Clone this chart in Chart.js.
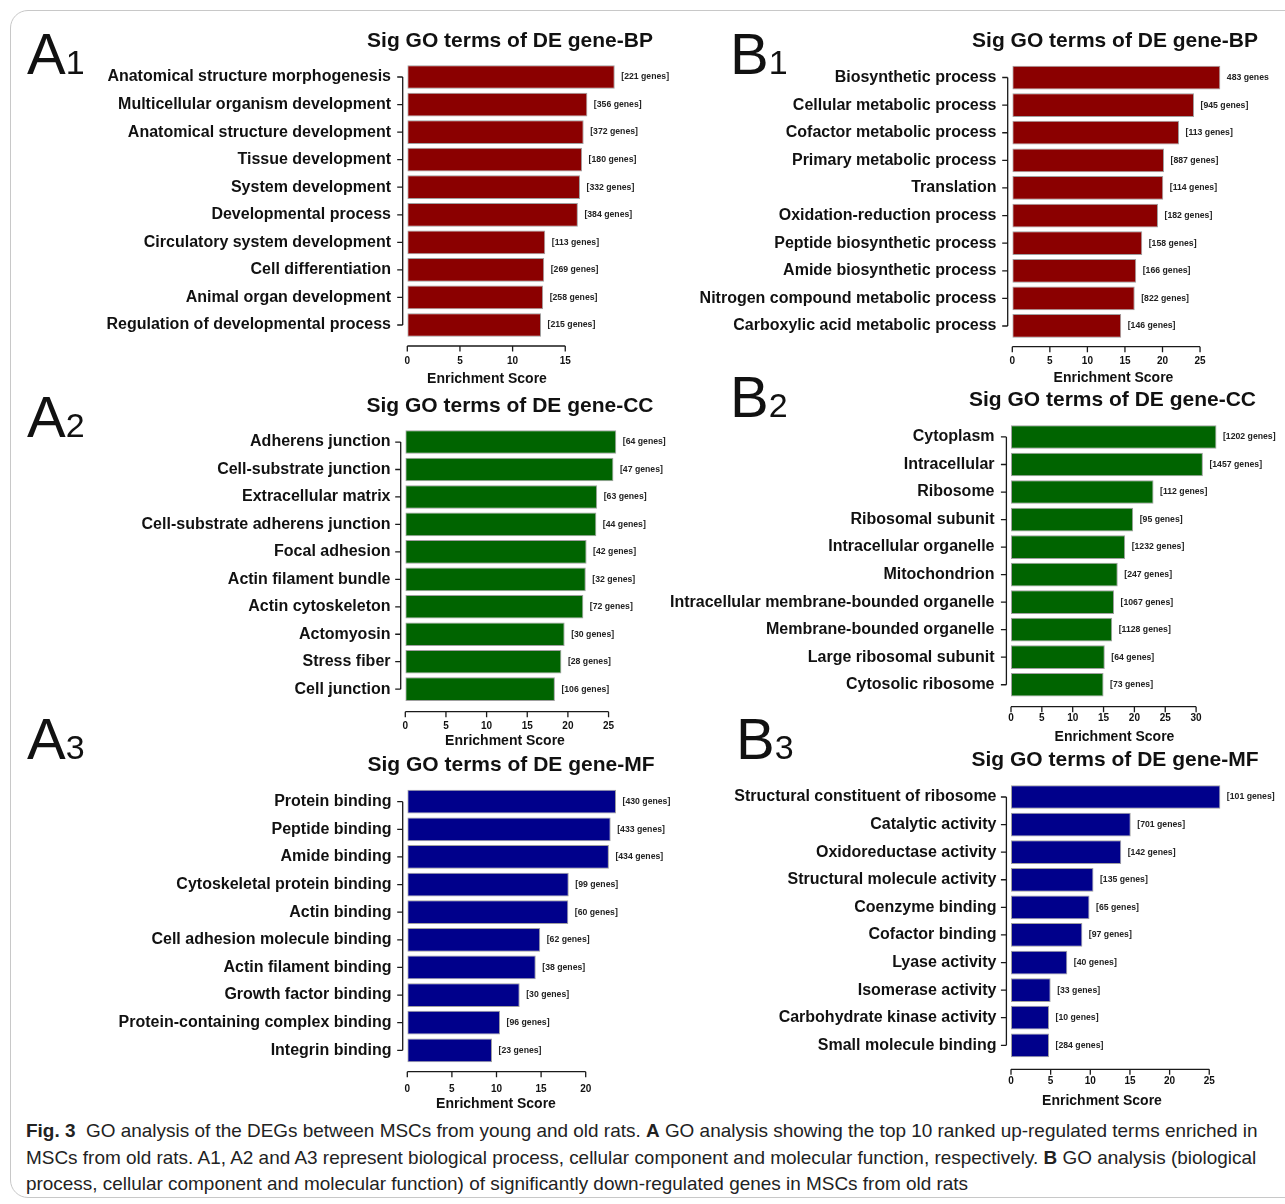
<!DOCTYPE html>
<html>
<head>
<meta charset="utf-8">
<script src="https://cdn.jsdelivr.net/npm/chart.js@4.4.1/dist/chart.umd.min.js"></script>
<style>
html,body{margin:0;padding:0;background:#fff;}
body{width:1285px;height:1204px;overflow:hidden;position:relative;font-family:"Liberation Sans",Arial,Helvetica,sans-serif;color:#111;}
#frame{position:absolute;left:10px;top:10px;width:1300px;height:1186px;border:1px solid #c8c8c8;border-radius:18px;}
.cv{position:absolute;}
.ttl{position:absolute;font-weight:bold;font-size:21px;line-height:21px;white-space:nowrap;transform:translate(-50%,-50%);color:#111;}
.xt{position:absolute;font-weight:bold;font-size:14px;line-height:14px;white-space:nowrap;transform:translate(-50%,-50%);color:#111;}
.big{position:absolute;font-size:58px;line-height:58px;white-space:nowrap;color:#111;}
.big span{font-size:34px;}
#cap{position:absolute;left:26px;top:1118px;font-size:19px;line-height:26.5px;color:#222;white-space:nowrap;}
#cap div{white-space:nowrap;}
</style>
</head>
<body>
<div id="frame"></div>
<div id="root"></div>
<div id="cap">
<div id="cl1"><b>Fig. 3</b>&nbsp; GO analysis of the DEGs between MSCs from young and old rats. <b>A</b> GO analysis showing the top 10 ranked up-regulated terms enriched in</div>
<div id="cl2">MSCs from old rats. A1, A2 and A3 represent biological process, cellular component and molecular function, respectively. <b>B</b> GO analysis (biological</div>
<div id="cl3">process, cellular component and molecular function) of significantly down-regulated genes in MSCs from old rats</div>
</div>
<script>
// ---------------- DATA ----------------
const a1Terms = ["Anatomical structure morphogenesis","Multicellular organism development","Anatomical structure development","Tissue development","System development","Developmental process","Circulatory system development","Cell differentiation","Animal organ development","Regulation of developmental process"];
const a1Scores = [19.7,17.1,16.75,16.6,16.4,16.2,13.1,13.0,12.9,12.7];
const a1Genes = ["[221 genes]","[356 genes]","[372 genes]","[180 genes]","[332 genes]","[384 genes]","[113 genes]","[269 genes]","[258 genes]","[215 genes]"];
const a1Ticks = [0,5,10,15];

const b1Terms = ["Biosynthetic process","Cellular metabolic process","Cofactor metabolic process","Primary metabolic process","Translation","Oxidation-reduction process","Peptide biosynthetic process","Amide biosynthetic process","Nitrogen compound metabolic process","Carboxylic acid metabolic process"];
const b1Scores = [27.7,24.2,22.2,20.2,20.1,19.4,17.3,16.5,16.3,14.5];
const b1Genes = ["483 genes","[945 genes]","[113 genes]","[887 genes]","[114 genes]","[182 genes]","[158 genes]","[166 genes]","[822 genes]","[146 genes]"];
const b1Ticks = [0,5,10,15,20,25];

const a2Terms = ["Adherens junction","Cell-substrate junction","Extracellular matrix","Cell-substrate adherens junction","Focal adhesion","Actin filament bundle","Actin cytoskeleton","Actomyosin","Stress fiber","Cell junction"];
const a2Scores = [25.95,25.6,23.6,23.5,22.3,22.2,21.9,19.6,19.2,18.4];
const a2Genes = ["[64 genes]","[47 genes]","[63 genes]","[44 genes]","[42 genes]","[32 genes]","[72 genes]","[30 genes]","[28 genes]","[106 genes]"];
const a2Ticks = [0,5,10,15,20,25];

const b2Terms = ["Cytoplasm","Intracellular","Ribosome","Ribosomal subunit","Intracellular organelle","Mitochondrion","Intracellular membrane-bounded organelle","Membrane-bounded organelle","Large ribosomal subunit","Cytosolic ribosome"];
const b2Scores = [33.3,31.1,23.1,19.8,18.5,17.3,16.7,16.4,15.2,15.0];
const b2Genes = ["[1202 genes]","[1457 genes]","[112 genes]","[95 genes]","[1232 genes]","[247 genes]","[1067 genes]","[1128 genes]","[64 genes]","[73 genes]"];
const b2Ticks = [0,5,10,15,20,25,30];

const a3Terms = ["Protein binding","Peptide binding","Amide binding","Cytoskeletal protein binding","Actin binding","Cell adhesion molecule binding","Actin filament binding","Growth factor binding","Protein-containing complex binding","Integrin binding"];
const a3Scores = [23.4,22.8,22.6,18.1,18.05,14.9,14.4,12.6,10.4,9.5];
const a3Genes = ["[430 genes]","[433 genes]","[434 genes]","[99 genes]","[60 genes]","[62 genes]","[38 genes]","[30 genes]","[96 genes]","[23 genes]"];
const a3Ticks = [0,5,10,15,20];

const b3Terms = ["Structural constituent of ribosome","Catalytic activity","Oxidoreductase activity","Structural molecule activity","Coenzyme binding","Cofactor binding","Lyase activity","Isomerase activity","Carbohydrate kinase activity","Small molecule binding"];
const b3Scores = [26.4,15.1,13.9,10.4,9.9,9.0,7.1,5.0,4.8,4.8];
const b3Genes = ["[101 genes]","[701 genes]","[142 genes]","[135 genes]","[65 genes]","[97 genes]","[40 genes]","[33 genes]","[10 genes]","[284 genes]"];
const b3Ticks = [0,5,10,15,20,25];

const panelTitles = ["Sig GO terms of DE gene-BP","Sig GO terms of DE gene-BP","Sig GO terms of DE gene-CC","Sig GO terms of DE gene-CC","Sig GO terms of DE gene-MF","Sig GO terms of DE gene-MF"];
const xTitle = "Enrichment Score";

// ---------------- LAYOUT ----------------
const RED = '#8b0000', GREEN = '#006400', BLUE = '#00008b';
const panels = [
  {key:['A','1'], terms:a1Terms, scores:a1Scores, genes:a1Genes, ticks:a1Ticks, title:panelTitles[0], color:RED,
   x0:407.3, ppu:10.53, top:63.2, bottom:338.8, axisY:346, tickY:361.7, labelRight:391, right:690,
   tx:510, ty:39, xx:487, xy:378, big:{x:27, base:74}, side:'A'},
  {key:['B','1'], terms:b1Terms, scores:b1Scores, genes:b1Genes, ticks:b1Ticks, title:panelTitles[1], color:RED,
   x0:1012.3, ppu:7.51, top:63.7, bottom:339.8, axisY:346.7, tickY:361.7, labelRight:996.5, right:1280,
   tx:1115, ty:39, xx:1113.5, xy:377, big:{x:730, base:74}, side:'B'},
  {key:['A','2'], terms:a2Terms, scores:a2Scores, genes:a2Genes, ticks:a2Ticks, title:panelTitles[2], color:GREEN,
   x0:405.3, ppu:8.13, top:428.3, bottom:702.9, axisY:711.7, tickY:726.7, labelRight:390.5, right:690,
   tx:510, ty:404, xx:505, xy:740, big:{x:27, base:437}, side:'A'},
  {key:['B','2'], terms:b2Terms, scores:b2Scores, genes:b2Genes, ticks:b2Ticks, title:panelTitles[3], color:GREEN,
   x0:1011, ppu:6.17, top:423.2, bottom:698.5, axisY:706.7, tickY:718, labelRight:994.5, right:1280,
   tx:1112.5, ty:398, xx:1114.5, xy:735.7, big:{x:730, base:417}, side:'B'},
  {key:['A','3'], terms:a3Terms, scores:a3Scores, genes:a3Genes, ticks:a3Ticks, title:panelTitles[4], color:BLUE,
   x0:407.3, ppu:8.92, top:787.9, bottom:1064.1, axisY:1071.7, tickY:1089, labelRight:391.5, right:690,
   tx:511, ty:763, xx:496, xy:1103, big:{x:27, base:759}, side:'A'},
  {key:['B','3'], terms:b3Terms, scores:b3Scores, genes:b3Genes, ticks:b3Ticks, title:panelTitles[5], color:BLUE,
   x0:1011, ppu:7.93, top:783.2, bottom:1059.1, axisY:1069.3, tickY:1081, labelRight:996.5, right:1280,
   tx:1115, ty:758, xx:1102, xy:1100, big:{x:736, base:759}, side:'B'}
];

const FONT = '"Liberation Sans", Arial, Helvetica, sans-serif';

// R-style axes + bar-end gene labels, drawn from the chart's own scales/elements
const rStyle = {
  id: 'rStyle',
  afterDraw(chart, args, o) {
    const ctx = chart.ctx, xs = chart.scales.x, ys = chart.scales.y, ca = chart.chartArea;
    ctx.save();
    ctx.strokeStyle = '#1a1a1a';
    ctx.lineWidth = 1.3;
    // x axis (only over tick range)
    const yy = o.axisY;
    ctx.beginPath();
    ctx.moveTo(xs.getPixelForValue(o.ticks[0]), yy);
    ctx.lineTo(xs.getPixelForValue(o.ticks[o.ticks.length - 1]), yy);
    xs.ticks.forEach(t => {
      const px = xs.getPixelForValue(t.value);
      ctx.moveTo(px, yy);
      ctx.lineTo(px, yy + 5.5);
    });
    ctx.stroke();
    // y axis
    const xx = ca.left - 4.6;
    const n = ys.ticks.length;
    ctx.beginPath();
    ctx.moveTo(xx, ys.getPixelForTick(0));
    ctx.lineTo(xx, ys.getPixelForTick(n - 1));
    for (let i = 0; i < n; i++) {
      const py = ys.getPixelForTick(i);
      ctx.moveTo(xx, py);
      ctx.lineTo(xx - 5.5, py);
    }
    ctx.stroke();
    // gene counts
    const meta = chart.getDatasetMeta(0);
    ctx.font = 'bold 8.7px ' + FONT;
    ctx.fillStyle = '#222';
    ctx.textAlign = 'left';
    ctx.textBaseline = 'middle';
    meta.data.forEach((bar, i) => {
      ctx.fillText(o.genes[i], bar.x + 6.5, bar.y);
    });
    ctx.restore();
  }
};

const root = document.getElementById('root');

panels.forEach(p => {
  const CL = p.side === 'A' ? 0 : 640;
  const W = p.side === 'A' ? 700 : 645;
  const CT = Math.floor(p.top) - 30;
  const H = Math.ceil(p.bottom) - CT + 50;
  const leftC = p.x0 - CL;
  const topC = p.top - CT;
  const rightC = p.right - CL;
  const bottomC = p.bottom - CT;
  const xmax = (p.right - p.x0) / p.ppu;

  const cv = document.createElement('canvas');
  cv.className = 'cv';
  cv.width = W; cv.height = H;
  cv.style.left = CL + 'px'; cv.style.top = CT + 'px';
  cv.style.width = W + 'px'; cv.style.height = H + 'px';
  root.appendChild(cv);

  new Chart(cv.getContext('2d'), {
    type: 'bar',
    data: {
      labels: p.terms,
      datasets: [{
        data: p.scores,
        backgroundColor: p.color,
        borderColor: '#a0a0a0',
        borderWidth: 1,
        borderSkipped: false,
        categoryPercentage: 1,
        barPercentage: 0.86
      }]
    },
    options: {
      indexAxis: 'y',
      responsive: false,
      animation: false,
      devicePixelRatio: 1,
      layout: { padding: { top: topC, right: W - rightC, left: 0, bottom: 0 } },
      plugins: {
        legend: { display: false },
        tooltip: { enabled: false },
        rStyle: { genes: p.genes, ticks: p.ticks, axisY: p.axisY - CT }
      },
      scales: {
        x: {
          type: 'linear',
          min: 0,
          max: xmax,
          grid: { display: false, drawTicks: false },
          border: { display: false },
          afterBuildTicks: s => { s.ticks = p.ticks.map(v => ({ value: v })); },
          afterFit: s => { s.height = H - bottomC; },
          ticks: {
            autoSkip: false, maxRotation: 0, minRotation: 0,
            padding: p.tickY - p.bottom - 6,
            color: '#111',
            font: { family: FONT, size: 10, weight: 'bold' }
          }
        },
        y: {
          grid: { display: false, drawTicks: false },
          border: { display: false },
          afterFit: s => { s.width = leftC; },
          ticks: {
            autoSkip: false,
            padding: p.x0 - p.labelRight,
            color: '#111',
            font: { family: FONT, size: 16, weight: 'bold' }
          }
        }
      }
    },
    plugins: [rStyle]
  });

  const t = document.createElement('div');
  t.className = 'ttl'; t.textContent = p.title;
  t.style.left = p.tx + 'px'; t.style.top = p.ty + 'px';
  root.appendChild(t);

  const x = document.createElement('div');
  x.className = 'xt'; x.textContent = xTitle;
  x.style.left = p.xx + 'px'; x.style.top = p.xy + 'px';
  root.appendChild(x);

  const b = document.createElement('div');
  b.className = 'big';
  b.innerHTML = p.key[0] + '<span>' + p.key[1] + '</span>';
  b.style.left = p.big.x + 'px';
  b.style.top = (p.big.base - 0.8465 * 58) + 'px';
  root.appendChild(b);
});

// fit caption lines to the reference width
(function () {
  const l2 = document.getElementById('cl2');
  const w = l2.getBoundingClientRect().width;
  const target = 1232;
  const fs = 19 * target / w;
  document.getElementById('cap').style.fontSize = fs.toFixed(2) + 'px';
})();
</script>
</body>
</html>
